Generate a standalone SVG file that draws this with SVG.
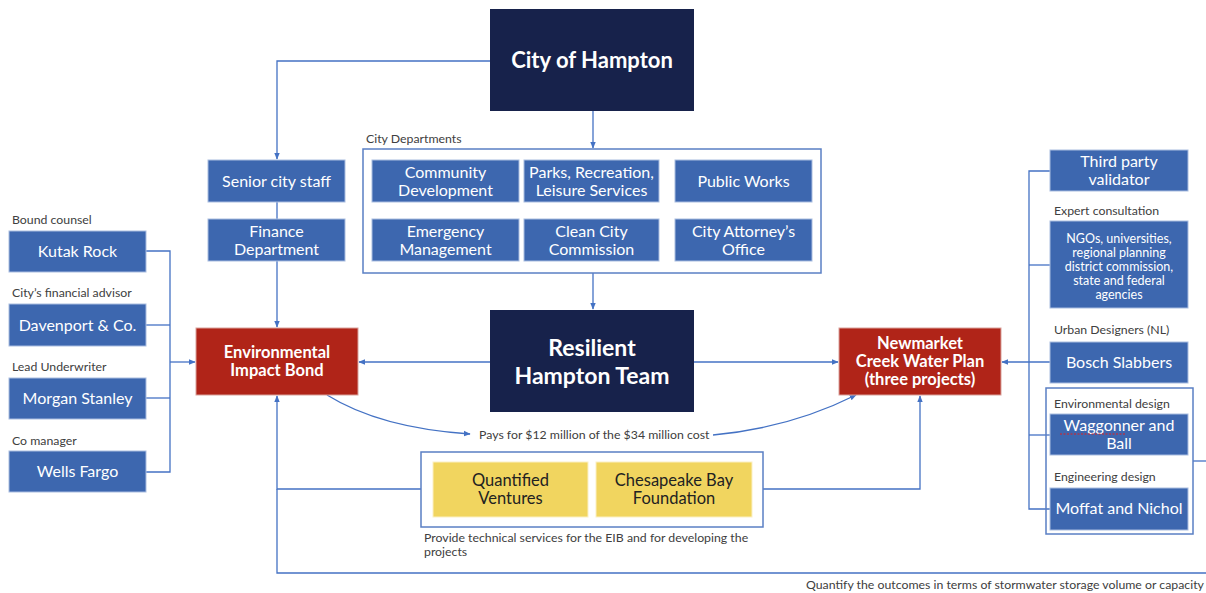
<svg xmlns="http://www.w3.org/2000/svg" width="1206" height="593" viewBox="0 0 1206 593">
  <defs>
    <style>
      .bg { fill: #ffffff; }
      .dark { fill: #17224b; }
      .red { fill: #b02418; stroke: #d9a19b; stroke-width: 1; }
      .blue { fill: #3d67af; stroke: #a9bde0; stroke-width: 1; }
      .yellow { fill: #f1d55f; stroke: #fbf0c4; stroke-width: 1; }
      .frame { fill: none; stroke: #5a7fc4; stroke-width: 1.5; }
      .wire { fill: none; stroke: #4472c4; stroke-width: 1.3; }
      .t { font-family: Lato, "Open Sans", "Liberation Sans", sans-serif; text-anchor: middle; }
      .wt { fill: #ffffff; font-size: 16px; }
      .small { fill: #ffffff; font-size: 12.5px; }
      .bt { fill: #ffffff; font-weight: bold; font-size: 16.5px; }
      .head { fill: #ffffff; font-weight: bold; }
      .yt { fill: #222222; font-size: 16.5px; }
      .lbl { font-family: Lato, "Open Sans", "Liberation Sans", sans-serif; fill: #404040; font-size: 12.3px; }
    </style>
    <marker id="arrow" viewBox="0 0 10 10" refX="9" refY="5" markerWidth="7" markerHeight="7" orient="auto" markerUnits="userSpaceOnUse">
      <path d="M0,1 L10,5 L0,9 z" fill="#4472c4"/>
    </marker>
  </defs>

  <rect class="bg" x="0" y="0" width="1206" height="593"/>

  <!-- connectors -->
  <g id="connectors">
    <!-- City of Hampton to senior staff -->
    <polyline class="wire" points="490,61 277,61 277,159" marker-end="url(#arrow)"/>
    <!-- City of Hampton to departments -->
    <line class="wire" x1="593" y1="111" x2="593" y2="148" marker-end="url(#arrow)"/>
    <!-- senior staff to finance -->
    <line class="wire" x1="277" y1="202" x2="277" y2="219"/>
    <!-- finance to EIB -->
    <line class="wire" x1="277" y1="261" x2="277" y2="327" marker-end="url(#arrow)"/>
    <!-- departments to resilient team -->
    <line class="wire" x1="593" y1="273" x2="593" y2="309" marker-end="url(#arrow)"/>
    <!-- resilient team to EIB and to water plan -->
    <line class="wire" x1="490" y1="362" x2="359" y2="362" marker-end="url(#arrow)"/>
    <line class="wire" x1="694" y1="362" x2="838" y2="362" marker-end="url(#arrow)"/>
    <!-- left advisers bus -->
    <polyline class="wire" points="146,251 170,251 170,472 146,472"/>
    <line class="wire" x1="146" y1="325" x2="170" y2="325"/>
    <line class="wire" x1="146" y1="398" x2="170" y2="398"/>
    <line class="wire" x1="170" y1="362" x2="195" y2="362" marker-end="url(#arrow)"/>
    <!-- EIB payment curves -->
    <path class="wire" d="M327,395 Q380,428 470,434" marker-end="url(#arrow)"/>
    <path class="wire" d="M713,435 Q790,428 856,395" marker-end="url(#arrow)"/>
    <!-- technical services -->
    <polyline class="wire" points="421,489 277,489 277,396" marker-end="url(#arrow)"/>
    <polyline class="wire" points="763,489 920,489 920,396" marker-end="url(#arrow)"/>
    <!-- outcomes loop -->
    <polyline class="wire" points="277,489 277,573 1206,573"/>
    <!-- right bus -->
    <polyline class="wire" points="1050,171 1029,171 1029,509 1050,509"/>
    <line class="wire" x1="1029" y1="265" x2="1050" y2="265"/>
    <line class="wire" x1="1029" y1="435" x2="1050" y2="435"/>
    <line class="wire" x1="1050" y1="362" x2="1002" y2="362" marker-end="url(#arrow)"/>
    <line class="wire" x1="1193" y1="461" x2="1206" y2="461"/>
  </g>

  <!-- top and centre -->
  <g id="city-of-hampton">
    <rect class="dark" x="490" y="9" width="204" height="102"/>
    <text class="t head" x="592" y="68" font-size="22">City of Hampton</text>
  </g>

  <g id="resilient-hampton-team">
    <rect class="dark" x="490" y="310" width="204" height="102"/>
    <text class="t head" x="592" y="356" font-size="23">Resilient</text>
    <text class="t head" x="592" y="384" font-size="23">Hampton Team</text>
  </g>

  <g id="senior-city-staff">
    <rect class="blue" x="208" y="160" width="137" height="42"/>
    <text class="t wt" x="276.5" y="187">Senior city staff</text>
  </g>
  <g id="finance-department">
    <rect class="blue" x="208" y="219" width="137" height="42"/>
    <text class="t wt" x="276.5" y="237">Finance</text>
    <text class="t wt" x="276.5" y="255">Department</text>
  </g>

  <g id="city-departments">
    <text class="lbl" x="366" y="143">City Departments</text>
    <rect class="frame" x="363" y="149" width="458" height="124"/>
    <g id="community-development">
      <rect class="blue" x="372" y="160" width="147" height="42"/>
      <text class="t wt" x="445.5" y="178">Community</text>
      <text class="t wt" x="445.5" y="196">Development</text>
    </g>
    <g id="parks-recreation">
      <rect class="blue" x="524" y="160" width="135" height="42"/>
      <text class="t wt" x="591.5" y="178">Parks, Recreation,</text>
      <text class="t wt" x="591.5" y="196">Leisure Services</text>
    </g>
    <g id="public-works">
      <rect class="blue" x="675" y="160" width="137" height="42"/>
      <text class="t wt" x="743.5" y="187">Public Works</text>
    </g>
    <g id="emergency-management">
      <rect class="blue" x="372" y="219" width="147" height="42"/>
      <text class="t wt" x="445.5" y="237">Emergency</text>
      <text class="t wt" x="445.5" y="255">Management</text>
    </g>
    <g id="clean-city-commission">
      <rect class="blue" x="524" y="219" width="135" height="42"/>
      <text class="t wt" x="591.5" y="237">Clean City</text>
      <text class="t wt" x="591.5" y="255">Commission</text>
    </g>
    <g id="city-attorney">
      <rect class="blue" x="675" y="219" width="137" height="42"/>
      <text class="t wt" x="743.5" y="237">City Attorney’s</text>
      <text class="t wt" x="743.5" y="255">Office</text>
    </g>
  </g>

  <g id="environmental-impact-bond">
    <rect class="red" x="196" y="328" width="162" height="67"/>
    <text class="t bt" x="277" y="358">Environmental</text>
    <text class="t bt" x="277" y="376">Impact Bond</text>
  </g>

  <g id="newmarket-creek">
    <rect class="red" x="839" y="328" width="162" height="67"/>
    <text class="t bt" x="920" y="349">Newmarket</text>
    <text class="t bt" x="920" y="367">Creek Water Plan</text>
    <text class="t bt" x="920" y="385">(three projects)</text>
  </g>

  <text class="lbl" x="479" y="439">Pays for $12 million of the $34 million cost</text>

  <!-- left column -->
  <g id="kutak-rock">
    <text class="lbl" x="12" y="224">Bound counsel</text>
    <rect class="blue" x="9" y="231" width="137" height="41"/>
    <text class="t wt" x="77.5" y="257">Kutak Rock</text>
  </g>
  <g id="davenport">
    <text class="lbl" x="12" y="297">City’s financial advisor</text>
    <rect class="blue" x="9" y="304" width="137" height="42"/>
    <text class="t wt" x="77.5" y="331">Davenport &amp; Co.</text>
  </g>
  <g id="morgan-stanley">
    <text class="lbl" x="12" y="371">Lead Underwriter</text>
    <rect class="blue" x="9" y="378" width="137" height="41"/>
    <text class="t wt" x="77.5" y="404">Morgan Stanley</text>
  </g>
  <g id="wells-fargo">
    <text class="lbl" x="12" y="445">Co manager</text>
    <rect class="blue" x="9" y="451" width="137" height="41"/>
    <text class="t wt" x="77.5" y="477">Wells Fargo</text>
  </g>

  <!-- technical partners -->
  <g id="technical-partners">
    <rect class="frame" x="421" y="452" width="342" height="75"/>
    <g id="quantified-ventures">
      <rect class="yellow" x="433" y="462" width="155" height="55"/>
      <text class="t yt" x="510.5" y="486">Quantified</text>
      <text class="t yt" x="510.5" y="504">Ventures</text>
    </g>
    <g id="chesapeake-bay">
      <rect class="yellow" x="596" y="462" width="156" height="55"/>
      <text class="t yt" x="674" y="486">Chesapeake Bay</text>
      <text class="t yt" x="674" y="504">Foundation</text>
    </g>
    <text class="lbl" x="424" y="542">Provide technical services for the EIB and for developing the</text>
    <text class="lbl" x="424" y="556">projects</text>
  </g>

  <text class="lbl" x="806" y="589">Quantify the outcomes in terms of stormwater storage volume or capacity</text>

  <!-- right column -->
  <g id="third-party-validator">
    <rect class="blue" x="1050" y="150" width="138" height="41"/>
    <text class="t wt" x="1119" y="167">Third party</text>
    <text class="t wt" x="1119" y="185">validator</text>
  </g>
  <g id="expert-consultation">
    <text class="lbl" x="1054" y="215">Expert consultation</text>
    <rect class="blue" x="1050" y="221" width="138" height="87"/>
    <text class="t small" x="1119" y="243">NGOs, universities,</text>
    <text class="t small" x="1119" y="257">regional planning</text>
    <text class="t small" x="1119" y="271">district commission,</text>
    <text class="t small" x="1119" y="285">state and federal</text>
    <text class="t small" x="1119" y="299">agencies</text>
  </g>
  <g id="bosch-slabbers">
    <text class="lbl" x="1054" y="334">Urban Designers (NL)</text>
    <rect class="blue" x="1050" y="342" width="138" height="41"/>
    <text class="t wt" x="1119" y="368">Bosch Slabbers</text>
  </g>
  <g id="design-team">
    <rect class="frame" x="1046" y="388" width="147" height="146"/>
    <g id="waggonner-ball">
      <text class="lbl" x="1054" y="408">Environmental design</text>
      <rect class="blue" x="1050" y="414" width="138" height="41"/>
      <text class="t wt" x="1119" y="431">Waggonner and</text>
      <text class="t wt" x="1119" y="449">Ball</text>
      <line x1="1060" y1="434" x2="1126" y2="434" stroke="#e02020" stroke-width="1" stroke-dasharray="2,1.5"/>
    </g>
    <g id="moffat-nichol">
      <text class="lbl" x="1054" y="481">Engineering design</text>
      <rect class="blue" x="1050" y="488" width="138" height="42"/>
      <text class="t wt" x="1119" y="514">Moffat and Nichol</text>
    </g>
  </g>
</svg>
